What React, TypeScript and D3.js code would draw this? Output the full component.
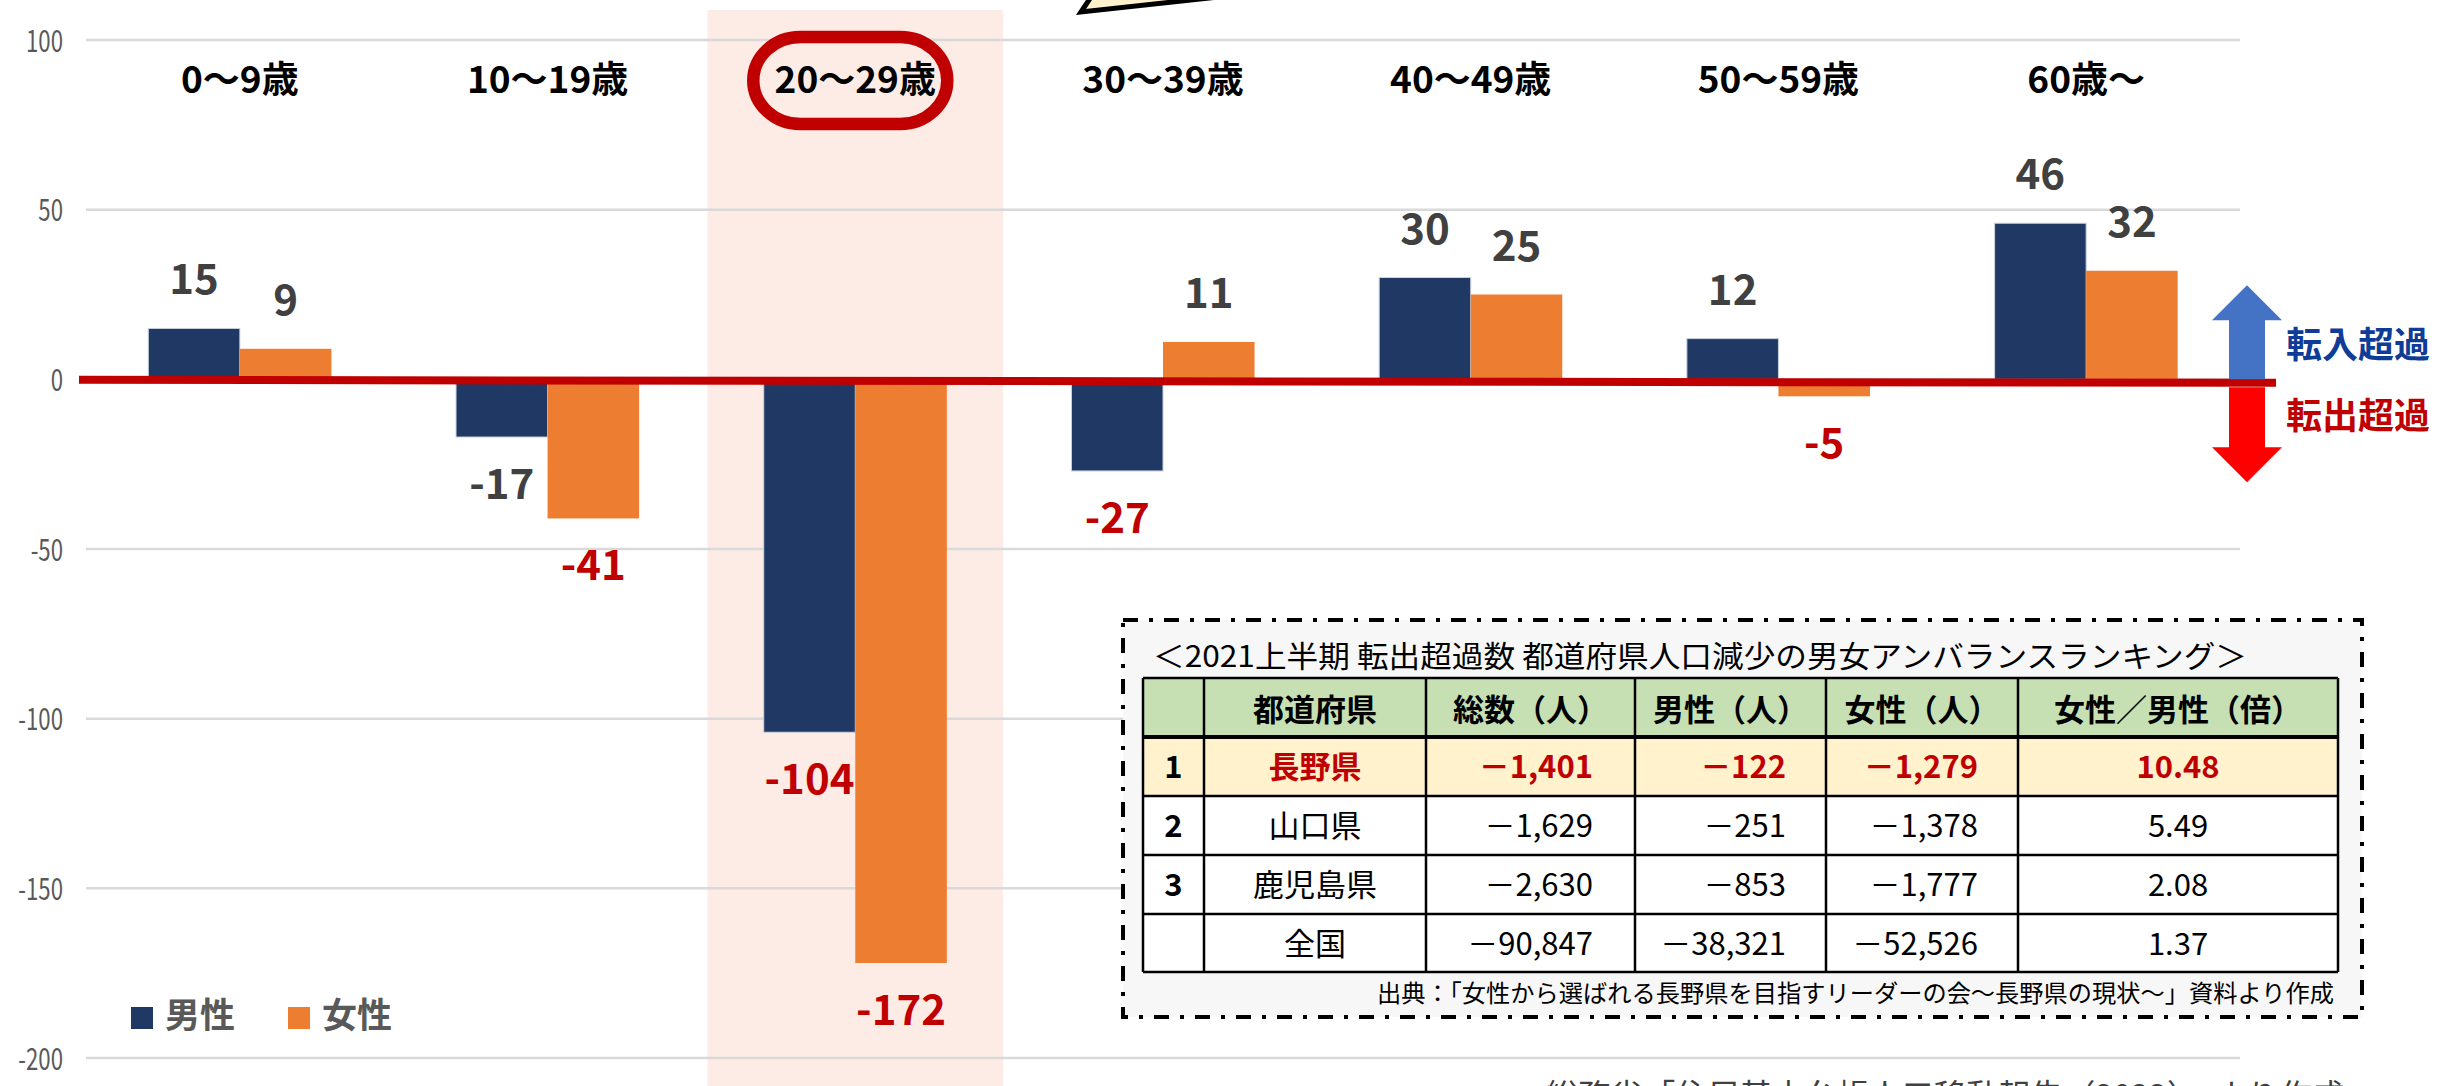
import React from 'react';
import * as d3 from 'd3';

const W = 2437;
const H = 1086;
const FONT = "'Noto Sans CJK JP', 'Noto Sans', sans-serif";

// 年齢階級別 転入超過数
const ageGroups = ['0～9歳', '10～19歳', '20～29歳', '30～39歳', '40～49歳', '50～59歳', '60歳～'];
const maleValues = [15, -17, -104, -27, 30, 12, 46];
const femaleValues = [9, -41, -172, 11, 25, -5, 32];
// which data labels are drawn in red
const maleRedLabel = [false, false, true, true, false, false, false];
const femaleRedLabel = [false, true, true, false, false, true, false];
const yTicks = [100, 50, 0, -50, -100, -150, -200];
const highlightGroup = '20～29歳';
const seriesNames = ['男性', '女性'];

// ranking table
const tableTitle = '＜2021上半期 転出超過数 都道府県人口減少の男女アンバランスランキング＞';
const tableHeaders = ['', '都道府県', '総数（人）', '男性（人）', '女性（人）', '女性／男性（倍）'];
const ranks = ['1', '2', '3', ''];
const prefectures = ['長野県', '山口県', '鹿児島県', '全国'];
const totalOut = [1401, 1629, 2630, 90847];
const maleOut = [122, 251, 853, 38321];
const femaleOut = [1279, 1378, 1777, 52526];
const ratios = [10.48, 5.49, 2.08, 1.37];
const tableNote = '出典：「女性から選ばれる長野県を目指すリーダーの会～長野県の現状～」資料より作成';
const sourceNote = '総務省「住民基本台帳人口移動報告（2022）」より作成';

const MALE = '#203864';
const FEMALE = '#ED7D31';
const RED = '#C00000';

function Chart() {
    const y = d3.scaleLinear().domain([-200, 100]).range([1058, 40]);
    const x0 = d3.scaleBand()
        .domain(ageGroups)
        .range([86, 2240])
        .paddingInner(0.405)
        .paddingOuter(0.2025);
    const x1 = d3.scaleBand().domain(['m', 'f']).range([0, x0.bandwidth()]);
    const step = x0.step();
    const y0 = y(0);
    const fmt = d3.format(',');

    const hx = x0(highlightGroup) + x0.bandwidth() / 2;

    const bars = [];
    ageGroups.forEach((g, i) => {
        [['m', maleValues[i], MALE, maleRedLabel[i]], ['f', femaleValues[i], FEMALE, femaleRedLabel[i]]].forEach(([k, v, c, red]) => {
            const bx = x0(g) + x1(k);
            const by = Math.min(y(v), y0);
            const bh = Math.abs(y(v) - y0);
            bars.push(
                <g key={g + k}>
                    <rect x={bx} y={by} width={x1.bandwidth()} height={bh} fill={c}
                        stroke={k === 'm' ? '#c9d1de' : 'none'} strokeWidth={1} />
                    <text x={bx + x1.bandwidth() / 2} y={v >= 0 ? y(v) - 34 : y(v) + 62}
                        textAnchor="middle" fontSize={42} fontWeight={700}
                        fill={red ? RED : '#404040'}>{String(v)}</text>
                </g>
            );
        });
    });

    // table layout
    const cols = [1143, 1204, 1426, 1635, 1826, 2018, 2338];
    const rows = [678, 737, 796, 855, 914, 972];
    const colMid = (c) => (cols[c] + cols[c + 1]) / 2;
    const rowMid = (r) => (rows[r] + rows[r + 1]) / 2;

    const bodyRows = prefectures.map((p, i) => {
        const first = i === 0;
        const color = first ? RED : '#000';
        const weight = first ? 700 : 400;
        const by = rowMid(i + 1) + 11.5;
        return (
            <g key={p} fontSize={31} fill={color} fontWeight={weight}>
                <text x={colMid(0)} y={by} textAnchor="middle" fill="#000" fontWeight={700}>{ranks[i]}</text>
                <text x={colMid(1)} y={by} textAnchor="middle">{p}</text>
                <text x={cols[3] - 42} y={by} textAnchor="end">{'－' + fmt(totalOut[i])}</text>
                <text x={cols[4] - 40} y={by} textAnchor="end">{'－' + fmt(maleOut[i])}</text>
                <text x={cols[5] - 40} y={by} textAnchor="end">{'－' + fmt(femaleOut[i])}</text>
                <text x={colMid(5)} y={by} textAnchor="middle">{d3.format('.2f')(ratios[i])}</text>
            </g>
        );
    });

    return (
        <svg width={W} height={H} viewBox={`0 0 ${W} ${H}`} fontFamily={FONT}
            style={{ display: 'block', background: '#fff' }}>
            {/* highlighted age group */}
            <rect x={hx - step * 0.48} y={10} width={step * 0.96} height={H - 10} fill="#FDEBE5" />

            {/* callout tail from above */}
            <polygon points="1081,12 1093,-6 1246,-6" fill="#FFF2CC" stroke="#000" strokeWidth={5} strokeLinejoin="miter" />

            {/* gridlines + y labels */}
            {yTicks.map(t => (
                <g key={t}>
                    <line x1={86} x2={2240} y1={y(t)} y2={y(t)} stroke="#D9D9D9" strokeWidth={2.5} />
                    <text transform={`translate(63,${y(t) + 11.5}) scale(0.74,1)`} textAnchor="end"
                        fontSize={30} fill="#595959">{String(t)}</text>
                </g>
            ))}

            {/* category labels */}
            {ageGroups.map(g => (
                <text key={g} x={x0(g) + x0.bandwidth() / 2} y={92.5} textAnchor="middle"
                    fontSize={37} fontWeight={700} fill="#000">{g}</text>
            ))}
            <rect x={hx - 102} y={37} width={194} height={87} rx={47} ry={43.5}
                fill="none" stroke={RED} strokeWidth={12.5} />

            {bars}

            {/* zero line */}
            <line x1={79} x2={2276} y1={y0 + 0.5} y2={y0 + 3.5} stroke={RED} strokeWidth={8} />

            {/* direction arrows */}
            <path d={`M2247,${y0 - 94} L2282,${y0 - 59} L2265,${y0 - 59} L2265,${y0} L2229,${y0} L2229,${y0 - 59} L2212,${y0 - 59} Z`}
                fill="#4472C4" />
            <path d={`M2229,${y0 + 8} L2265,${y0 + 8} L2265,${y0 + 68} L2282,${y0 + 68} L2247,${y0 + 103} L2212,${y0 + 68} L2229,${y0 + 68} Z`}
                fill="#FF0000" />
            <text x={2286} y={y0 - 21} fontSize={36} fontWeight={700} fill="#0F3C96">転入超過</text>
            <text x={2286} y={y0 + 50} fontSize={36} fontWeight={700} fill={RED}>転出超過</text>

            {/* legend */}
            {seriesNames.map((s, i) => (
                <g key={s} transform={`translate(${131 + i * 157},1007)`}>
                    <rect width={22} height={22} fill={i === 0 ? MALE : FEMALE} />
                    <text x={34} y={21} fontSize={35} fontWeight={600} fill="#595959">{s}</text>
                </g>
            ))}

            {/* ranking table box */}
            <rect x={1123} y={620} width={1239} height={397} fill="#F7F7F7" stroke="#000"
                strokeWidth={4} strokeDasharray="15 11 4 11" />
            <text x={1153} y={667} fontSize={30} fill="#000" textLength={1094}
                lengthAdjust="spacingAndGlyphs">{tableTitle}</text>
            <rect x={cols[0]} y={rows[0]} width={cols[6] - cols[0]} height={rows[1] - rows[0]} fill="#C6E0B4" />
            <rect x={cols[0]} y={rows[1]} width={cols[6] - cols[0]} height={rows[2] - rows[1]} fill="#FFF2CC" />
            <rect x={cols[0]} y={rows[2]} width={cols[6] - cols[0]} height={rows[5] - rows[2]} fill="#fff" />
            {tableHeaders.map((h, c) => (
                <text key={c} x={colMid(c)} y={rowMid(0) + 13} textAnchor="middle" fontSize={31}
                    fontWeight={700} fill="#000">{h}</text>
            ))}
            {bodyRows}
            {rows.map((r, i) => (
                <line key={'r' + i} x1={cols[0]} x2={cols[6]} y1={r} y2={r} stroke="#000"
                    strokeWidth={i === 1 ? 4 : 2.5} />
            ))}
            {cols.map((c, i) => (
                <line key={'c' + i} x1={c} x2={c} y1={rows[0]} y2={rows[5]} stroke="#000" strokeWidth={2.5} />
            ))}
            <text x={2334} y={1002} textAnchor="end" fontSize={24} fill="#000" textLength={957}
                lengthAdjust="spacingAndGlyphs">{tableNote}</text>

            {/* source (cut at the bottom edge) */}
            <text x={1546} y={1108} fontSize={33} fill="#404040" textLength={798}
                lengthAdjust="spacingAndGlyphs">{sourceNote}</text>
        </svg>
    );
}

export default function App() {
    return (
        <div style={{ position: 'absolute', left: 0, top: 0, width: W, height: H, overflow: 'hidden' }}>
            <Chart />
        </div>
    );
}
